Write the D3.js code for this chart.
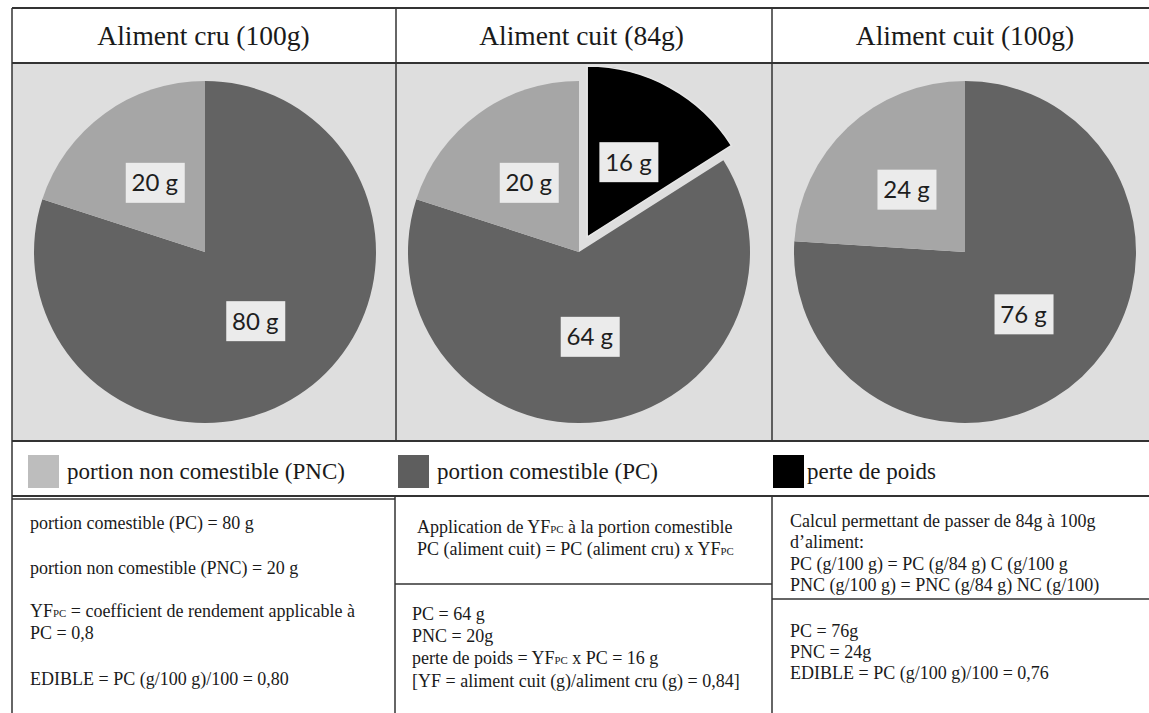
<!DOCTYPE html>
<html><head><meta charset="utf-8">
<script src="https://cdn.jsdelivr.net/npm/d3@7"></script>
<style>body{margin:0;background:#fff}svg{display:block}</style>
</head><body><svg id="c" width="1149" height="713"></svg>
<script>
// ---- data ----
const panelTitles = ["Aliment cru (100g)", "Aliment cuit (84g)", "Aliment cuit (100g)"];
const sliceKeys = ["perte", "PC", "PNC"];
const cruValues = [0, 80, 20];
const cuit84Values = [16, 64, 20];
const cuit100Values = [0, 76, 24];
const legendKeys = ["PNC", "PC", "perte"];
const legendLabels = ["portion non comestible (PNC)", "portion comestible (PC)", "perte de poids"];
const col1Lines = ["portion comestible (PC) = 80 g", "portion non comestible (PNC) = 20 g",
  "YF{PC} = coefficient de rendement applicable à", "PC = 0,8", "EDIBLE = PC (g/100 g)/100 = 0,80"];
const col2TopLines = ["Application de YF{PC} à la portion comestible", "PC (aliment cuit) = PC (aliment cru) x YF{PC}"];
const col2BottomLines = ["PC = 64 g", "PNC = 20g", "perte de poids = YF{PC} x PC = 16 g", "[YF = aliment cuit (g)/aliment cru (g) = 0,84]"];
const col3TopLines = ["Calcul permettant de passer de 84g à 100g", "d’aliment:", "PC (g/100 g) = PC (g/84 g) C (g/100 g", "PNC (g/100 g) = PNC (g/84 g) NC (g/100)"];
const col3BottomLines = ["PC = 76g", "PNC = 24g", "EDIBLE = PC (g/100 g)/100 = 0,76"];

// ---- styles / layout ----
const color = d3.scaleOrdinal().domain(["perte", "PC", "PNC"]).range(["#000000", "#636363", "#a6a6a6"]);
const serif = "'Liberation Serif', 'Times New Roman', serif";
const svg = d3.select("#c");
svg.append("rect").attr("width", 1149).attr("height", 713).attr("fill", "#fff");

const colX = [12, 395, 772, 1158];
const topY = 8, headBot = 63, panelBot = 441, legBot = 496, botY = 713;
const pieCx = [205, 579, 965], pieCy = 252, R = 171;
const lineCol = "#333333";

// panel backgrounds
for (let i = 0; i < 3; i++) {
  svg.append("rect").attr("x", colX[i]).attr("y", headBot).attr("width", colX[i+1] - colX[i]).attr("height", panelBot - headBot).attr("fill", "#dedede");
}

// pies
const pie = d3.pie().sort(null).value(d => d.v);
const arc = d3.arc().innerRadius(0).outerRadius(R);
const allValues = [cruValues, cuit84Values, cuit100Values];
const labelFont = "Lato, 'Open Sans', sans-serif";
allValues.forEach((vals, i) => {
  const data = sliceKeys.map((k, j) => ({k, v: vals[j]}));
  const arcs = pie(data).filter(a => a.data.v > 0);
  const g = svg.append("g").attr("transform", `translate(${pieCx[i]},${pieCy})`);
  const explode = a => a.data.k === "perte" ? 17 : 0;
  const off = a => { const m = (a.startAngle + a.endAngle) / 2, e = explode(a); return [Math.sin(m) * e, -Math.cos(m) * e]; };
  g.selectAll("path").data(arcs).join("path")
    .attr("d", arc)
    .attr("transform", a => `translate(${off(a)})`)
    .attr("fill", a => color(a.data.k))
    .attr("stroke", a => a.data.k === "perte" ? "#e6e6e6" : "none")
    .attr("stroke-width", 1.5);
  const lab = g.selectAll("g.lab").data(arcs).join("g").attr("class", "lab")
    .attr("transform", a => { const c = arc.centroid(a), o = off(a); return `translate(${c[0] + o[0]},${c[1] + o[1]})`; });
  lab.append("rect").attr("x", -29).attr("y", -20).attr("width", 59).attr("height", 40).attr("fill", "#ebebeb");
  lab.append("text").attr("text-anchor", "middle").attr("y", 8.5)
    .attr("font-family", labelFont).attr("font-size", 24).attr("fill", "#1e1e1e")
    .text(a => a.data.v + " g");
});

// headers
panelTitles.forEach((t, i) => {
  const cx = i === 2 ? 965 : (colX[i] + colX[i+1]) / 2 - (i === 1 ? 2 : 0);
  svg.append("text").attr("x", cx).attr("y", 45).attr("text-anchor", "middle")
    .attr("font-family", serif).attr("font-size", 27.5).attr("fill", "#1a1a1a").text(t);
});

// legend
const legX = [28, 398, 773];
legendKeys.forEach((k, i) => {
  svg.append("rect").attr("x", legX[i]).attr("y", 455).attr("width", 31).attr("height", 33)
    .attr("fill", k === "PNC" ? "#bdbdbd" : k === "PC" ? "#5e5e5e" : "#000");
  svg.append("text").attr("x", legX[i] + (k === "perte" ? 34 : 39)).attr("y", 479)
    .attr("font-family", serif).attr("font-size", 23).attr("fill", "#1a1a1a").text(legendLabels[i]);
});

// body text
function writeLines(lines, x, ys, fs) {
  lines.forEach((ln, i) => {
    const t = svg.append("text").attr("x", x).attr("y", ys[i]).attr("font-family", serif)
      .attr("font-size", fs).attr("fill", "#1a1a1a");
    ln.split(/(\{[^}]*\})/).forEach(seg => {
      if (!seg) return;
      if (seg[0] === "{") t.append("tspan").attr("font-size", fs * 0.6).text(seg.slice(1, -1));
      else t.append("tspan").text(seg);
    });
  });
}
const fs = 18;
writeLines(col1Lines, 30, [529, 574, 617, 639, 685], fs);
writeLines(col2TopLines, 417, [533, 555], fs);
writeLines(col2BottomLines, 412, [620, 642, 664, 687], fs);
writeLines(col3TopLines, 790, [527, 548, 570, 591], fs);
writeLines(col3BottomLines, 790, [637, 658, 679], fs);

// grid lines
function ln(x1, y1, x2, y2, w) {
  svg.append("line").attr("x1", x1).attr("y1", y1).attr("x2", x2).attr("y2", y2)
    .attr("stroke", lineCol).attr("stroke-width", w || 1.5);
}
ln(colX[0], topY, 1149, topY, 2);
ln(colX[0], headBot, 1149, headBot, 2);
ln(colX[0], panelBot, 1149, panelBot, 2);
ln(colX[0], legBot, 1149, legBot, 2);
ln(colX[0], legBot + 3, colX[1], legBot + 3, 1.5);
ln(colX[0], topY, colX[0], botY, 1.5);
ln(396, topY, 396, panelBot, 1.5);
ln(772, topY, 772, panelBot, 1.5);
ln(colX[1], legBot, colX[1], botY, 1.5);
ln(772, legBot, 772, botY, 1.5);
ln(colX[1], 584, 772, 584, 1.5);
ln(772, 599, 1149, 599, 1.5);
</script></body></html>
